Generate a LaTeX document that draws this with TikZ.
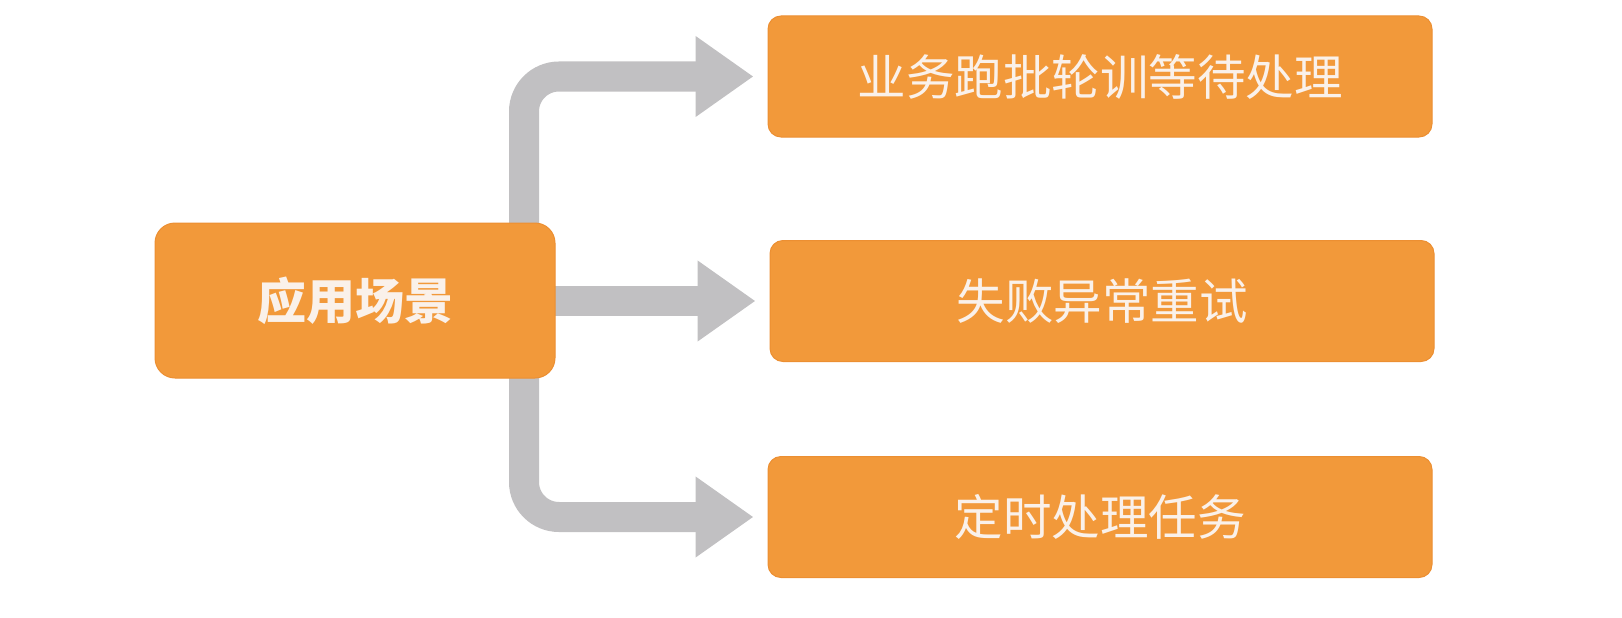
\documentclass[tikz,border=0pt]{standalone}
\usepackage{fontspec}
\usepackage{tikz}
\usetikzlibrary{arrows.meta}
\usetikzlibrary{backgrounds}
\newfontfamily\cjk{Noto Sans CJK SC}
\definecolor{boxColor}{RGB}{242,153,58}
\definecolor{boxEdgeColor}{RGB}{236,143,50}
\definecolor{arrowColor}{RGB}{193,192,194}
\definecolor{textColor}{RGB}{250,241,234}

\begin{document}
\begin{tikzpicture}[x=1pt,y=-1pt]

          \tikzstyle{mainNode} = [fill=boxColor, draw=boxEdgeColor, line width=1pt, rounded corners=20pt, minimum width=400pt, minimum height=155pt, inner sep=0pt, text=textColor, font={\cjk\bfseries\fontsize{49pt}{58pt}\selectfont}];
          \tikzstyle{caseNode} = [fill=boxColor, draw=boxEdgeColor, line width=1pt, rounded corners=13pt, minimum width=664pt, minimum height=121pt, inner sep=0pt, text=textColor, font={\cjk\fontsize{48.5pt}{58pt}\selectfont}];

          \tikzstyle{caseEdge} = [arrowColor, line width=30pt, rounded corners=35pt, shorten >=14pt, -{Triangle[length=58pt, width=77pt]}];

          \useasboundingbox (0,0) rectangle (1622,618);

          \node[mainNode] (scene) at (355,300.5) {应用场景};
          \node[caseNode] (batch) at (1100,76.5) {业务跑批轮训等待处理};
          \node[caseNode] (retry) at (1102,301) {失败异常重试};
          \node[caseNode] (timer) at (1100,517) {定时处理任务};

          \coordinate (trunk) at (524,301);

          \begin{pgfonlayer}{background}
          \draw[caseEdge] (trunk) |- (batch.west);
          \draw[caseEdge] (trunk) -- (retry.west);
          \draw[caseEdge] (trunk) |- (timer.west);
          \end{pgfonlayer}
        \end{tikzpicture}
\end{document}
